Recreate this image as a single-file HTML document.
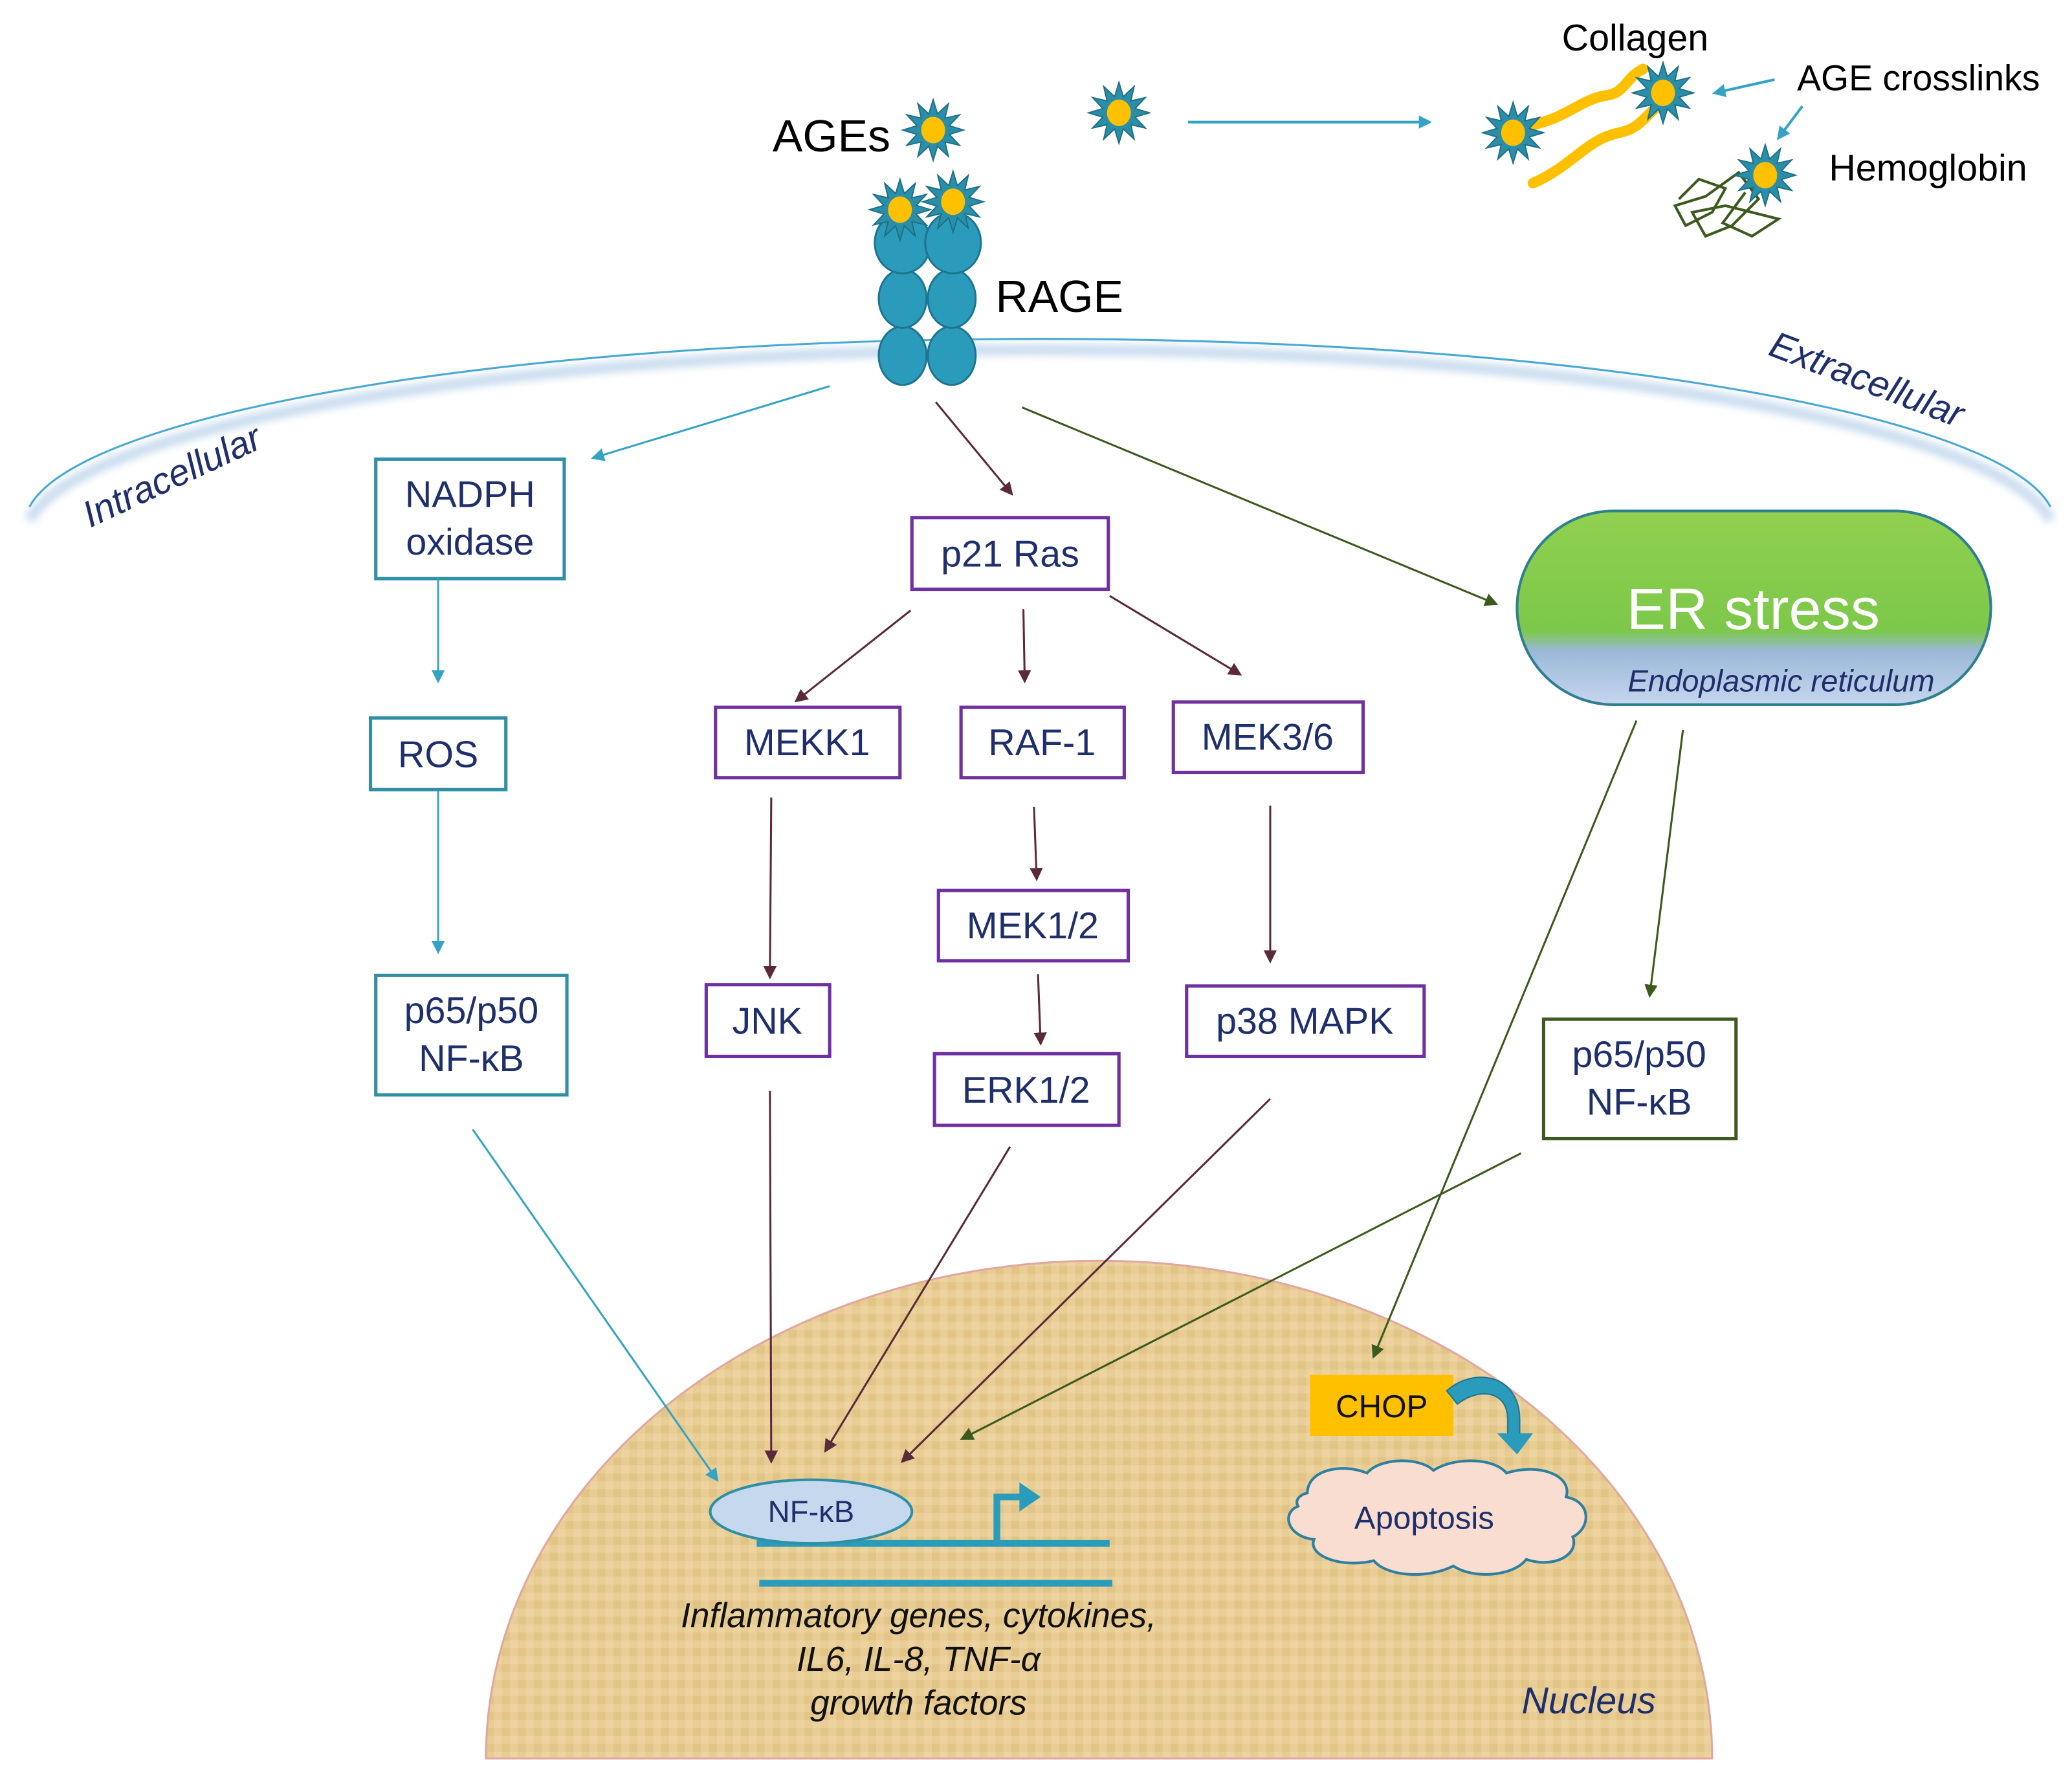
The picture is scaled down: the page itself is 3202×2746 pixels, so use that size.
<!DOCTYPE html>
<html><head><meta charset="utf-8">
<style>
html,body{margin:0;padding:0;background:#fff;}
svg{display:block;}
text{font-family:"Liberation Sans",sans-serif;}
</style></head>
<body>
<svg width="3202" height="2746" viewBox="0 0 1561 1339" xmlns="http://www.w3.org/2000/svg">
<defs>
  <g id="star">
    <polygon transform="scale(23)" fill="#2a8ea8" stroke="#1d6f85" stroke-width="0.04" points="1,0 0.531,0.142 0.866,0.5 0.389,0.389 0.5,0.866 0.142,0.531 0,1 -0.142,0.531 -0.5,0.866 -0.389,0.389 -0.866,0.5 -0.531,0.142 -1,0 -0.531,-0.142 -0.866,-0.5 -0.389,-0.389 -0.5,-0.866 -0.142,-0.531 0,-1 0.142,-0.531 0.5,-0.866 0.389,-0.389 0.866,-0.5 0.531,-0.142"/>
    <ellipse rx="9" ry="10" fill="#ffc000"/>
  </g>
  <marker id="aT" markerWidth="10" markerHeight="10" refX="8" refY="5" orient="auto" markerUnits="userSpaceOnUse"><path d="M0,0 L10,5 L0,10 z" fill="#35a3c4"/></marker>
  <marker id="aB" markerWidth="10" markerHeight="10" refX="8" refY="5" orient="auto" markerUnits="userSpaceOnUse"><path d="M0,0 L10,5 L0,10 z" fill="#5a2a3a"/></marker>
  <marker id="aG" markerWidth="10" markerHeight="10" refX="8" refY="5" orient="auto" markerUnits="userSpaceOnUse"><path d="M0,0 L10,5 L0,10 z" fill="#3d5a1e"/></marker>
  <linearGradient id="er" x1="0" y1="0" x2="0" y2="1">
    <stop offset="0" stop-color="#92d050"/><stop offset="0.62" stop-color="#7cc84a"/>
    <stop offset="0.72" stop-color="#9bb8d8"/><stop offset="1" stop-color="#c6d6ee"/>
  </linearGradient>
  <pattern id="tex" width="12" height="12" patternUnits="userSpaceOnUse">
    <rect width="12" height="12" fill="#e8cd95"/>
    <rect width="6" height="6" fill="#ecd39f"/>
    <rect x="6" y="6" width="6" height="6" fill="#e2c487"/>
  </pattern>
  <filter id="blur"><feGaussianBlur stdDeviation="3"/></filter>
</defs>

<!-- nucleus -->
<path d="M366,1325 A462,375 0 0 1 1290,1325 Z" fill="url(#tex)" stroke="#e0a8a0" stroke-width="1.5"/>

<!-- membrane -->
<path d="M22,392 A765,142 0 0 1 1545,392" fill="none" stroke="#c8dcef" stroke-width="8" filter="url(#blur)"/>
<path d="M22,382 A765,140 0 0 1 1545,382" fill="none" stroke="#4aa8d4" stroke-width="1.5"/>

<text x="130" y="368" font-size="28" font-style="italic" fill="#1f2f6b" text-anchor="middle" transform="rotate(-25 130 360)">Intracellular</text>
<text x="1405" y="295" font-size="28" font-style="italic" fill="#1f2f6b" text-anchor="middle" transform="rotate(21 1405 290)">Extracellular</text>

<!-- RAGE -->
<g fill="#2a9bbb" stroke="#1d7590" stroke-width="1.5">
  <ellipse cx="680" cy="268" rx="18" ry="22"/><ellipse cx="717" cy="268" rx="18" ry="22"/>
  <ellipse cx="680" cy="225" rx="18" ry="22"/><ellipse cx="717" cy="225" rx="18" ry="22"/>
  <ellipse cx="680" cy="183" rx="21" ry="23"/><ellipse cx="718" cy="183" rx="21" ry="23"/>
</g>
<use href="#star" x="678" y="158"/>
<use href="#star" x="718" y="152"/>

<text x="582" y="114" font-size="34" fill="#000">AGEs</text>
<use href="#star" x="703" y="98"/>
<text x="750" y="235" font-size="34" fill="#000">RAGE</text>
<use href="#star" x="843" y="85"/>
<line x1="895" y1="92" x2="1077" y2="92" stroke="#35a3c4" stroke-width="2" marker-end="url(#aT)"/>

<!-- collagen -->
<path d="M1150,95 C1180,90 1190,75 1210,72 C1225,70 1225,58 1238,52" fill="none" stroke="#ffc000" stroke-width="8" stroke-linecap="round"/>
<path d="M1155,138 C1185,125 1195,105 1220,100 C1240,96 1240,82 1262,72" fill="none" stroke="#ffc000" stroke-width="8" stroke-linecap="round"/>
<use href="#star" x="1140" y="100"/>
<use href="#star" x="1253" y="70"/>
<text x="1232" y="38" font-size="28" fill="#000" text-anchor="middle">Collagen</text>
<text x="1354" y="68" font-size="27" fill="#000">AGE crosslinks</text>
<line x1="1337" y1="60" x2="1292" y2="70" stroke="#35a3c4" stroke-width="2" marker-end="url(#aT)"/>
<line x1="1358" y1="80" x2="1340" y2="104" stroke="#35a3c4" stroke-width="2" marker-end="url(#aT)"/>
<!-- hemoglobin -->
<path d="M1265,150 L1280,135 L1300,142 L1290,160 L1270,170 L1262,155 L1285,148 L1310,130 L1325,150 L1305,170 L1285,178 L1275,160 L1300,155 L1340,165 L1320,178 L1298,168 L1315,145" fill="none" stroke="#3d5a1e" stroke-width="2"/>
<use href="#star" x="1330" y="132"/>
<text x="1378" y="136" font-size="28" fill="#000">Hemoglobin</text>

<!-- boxes -->
<g fill="#fff" stroke-width="2.5">
  <rect x="283" y="346" width="142" height="90" stroke="#2e8fa5"/>
  <rect x="279" y="541" width="102" height="54" stroke="#2e8fa5"/>
  <rect x="283" y="735" width="144" height="90" stroke="#2e8fa5"/>
  <rect x="687" y="390" width="148" height="54" stroke="#7030a0"/>
  <rect x="539" y="533" width="139" height="53" stroke="#7030a0"/>
  <rect x="724" y="533" width="123" height="53" stroke="#7030a0"/>
  <rect x="884" y="529" width="143" height="53" stroke="#7030a0"/>
  <rect x="707" y="671" width="143" height="53" stroke="#7030a0"/>
  <rect x="532" y="742" width="93" height="54" stroke="#7030a0"/>
  <rect x="704" y="794" width="139" height="54" stroke="#7030a0"/>
  <rect x="894" y="743" width="179" height="53" stroke="#7030a0"/>
  <rect x="1163" y="768" width="145" height="90" stroke="#3d5a1e"/>
</g>
<g font-size="28" fill="#1f2f6b" text-anchor="middle">
  <text x="354" y="382">NADPH</text><text x="354" y="418">oxidase</text>
  <text x="330" y="578">ROS</text>
  <text x="355" y="771">p65/p50</text><text x="355" y="807">NF-κB</text>
  <text x="761" y="427">p21 Ras</text>
  <text x="608" y="569">MEKK1</text>
  <text x="785" y="569">RAF-1</text>
  <text x="955" y="565">MEK3/6</text>
  <text x="778" y="707">MEK1/2</text>
  <text x="578" y="779">JNK</text>
  <text x="773" y="831">ERK1/2</text>
  <text x="983" y="779">p38 MAPK</text>
  <text x="1235" y="804">p65/p50</text><text x="1235" y="840">NF-κB</text>
</g>

<!-- ER stress -->
<rect x="1143" y="385" width="357" height="146" rx="73" ry="73" fill="url(#er)" stroke="#2e7f90" stroke-width="2"/>
<text x="1321" y="474" font-size="44" fill="#fff" text-anchor="middle">ER stress</text>
<text x="1342" y="521" font-size="23" font-style="italic" fill="#1f2f6b" text-anchor="middle">Endoplasmic reticulum</text>

<!-- arrows -->
<g stroke-width="1.5" fill="none">
  <line x1="625" y1="291" x2="447" y2="345" stroke="#35a3c4" marker-end="url(#aT)"/>
  <line x1="330" y1="436" x2="330" y2="513" stroke="#35a3c4" marker-end="url(#aT)"/>
  <line x1="330" y1="596" x2="330" y2="717" stroke="#35a3c4" marker-end="url(#aT)"/>
  <line x1="356" y1="851" x2="540" y2="1115" stroke="#35a3c4" marker-end="url(#aT)"/>
  <line x1="705" y1="303" x2="762" y2="372" stroke="#5a2a3a" marker-end="url(#aB)"/>
  <line x1="686" y1="460" x2="600" y2="528" stroke="#5a2a3a" marker-end="url(#aB)"/>
  <line x1="771" y1="459" x2="772" y2="513" stroke="#5a2a3a" marker-end="url(#aB)"/>
  <line x1="836" y1="449" x2="934" y2="508" stroke="#5a2a3a" marker-end="url(#aB)"/>
  <line x1="779" y1="608" x2="781" y2="662" stroke="#5a2a3a" marker-end="url(#aB)"/>
  <line x1="782" y1="734" x2="784" y2="786" stroke="#5a2a3a" marker-end="url(#aB)"/>
  <line x1="581" y1="601" x2="580" y2="736" stroke="#5a2a3a" marker-end="url(#aB)"/>
  <line x1="957" y1="607" x2="957" y2="724" stroke="#5a2a3a" marker-end="url(#aB)"/>
  <line x1="580" y1="822" x2="581" y2="1101" stroke="#5a2a3a" marker-end="url(#aB)"/>
  <line x1="761" y1="864" x2="622" y2="1093" stroke="#5a2a3a" marker-end="url(#aB)"/>
  <line x1="957" y1="828" x2="680" y2="1101" stroke="#5a2a3a" marker-end="url(#aB)"/>
  <line x1="770" y1="307" x2="1127" y2="455" stroke="#3d5a1e" marker-end="url(#aG)"/>
  <line x1="1233" y1="543" x2="1035" y2="1022" stroke="#3d5a1e" marker-end="url(#aG)"/>
  <line x1="1268" y1="550" x2="1243" y2="750" stroke="#3d5a1e" marker-end="url(#aG)"/>
  <line x1="1146" y1="869" x2="725" y2="1084" stroke="#3d5a1e" marker-end="url(#aG)"/>
</g>

<!-- NF-kB gene -->
<line x1="570" y1="1163" x2="836" y2="1163" stroke="#2a9bbb" stroke-width="5"/>
<line x1="572" y1="1193" x2="838" y2="1193" stroke="#2a9bbb" stroke-width="5"/>
<ellipse cx="611" cy="1139" rx="76" ry="24" fill="#c5d8ee" stroke="#2e8fa5" stroke-width="2"/>
<text x="611" y="1147" font-size="23" fill="#1f2f6b" text-anchor="middle">NF-κB</text>
<path d="M751,1163 L751,1128 L770,1128" fill="none" stroke="#2a9bbb" stroke-width="5"/>
<path d="M768,1117 L784,1128 L768,1139 z" fill="#2a9bbb"/>
<g font-size="26" font-style="italic" fill="#111" text-anchor="middle">
  <text x="692" y="1226">Inflammatory genes, cytokines,</text>
  <text x="692" y="1259">IL6, IL-8, TNF-α</text>
  <text x="692" y="1292">growth factors</text>
</g>
<text x="1197" y="1291" font-size="28" font-style="italic" fill="#1f2f6b" text-anchor="middle">Nucleus</text>

<!-- CHOP -->
<rect x="987" y="1036" width="108" height="46" fill="#ffc000"/>
<text x="1041" y="1068" font-size="24" fill="#111" text-anchor="middle">CHOP</text>
<path d="M1090,1048 C1110,1030 1145,1035 1145,1070 L1145,1082 L1136,1082 L1136,1070 C1136,1048 1115,1045 1098,1058 Z" fill="#2a9bbb" stroke="#1d7590" stroke-width="1"/>
<path d="M1128,1080 L1155,1080 L1143,1096 z" fill="#2a9bbb"/>
<!-- Apoptosis cloud -->
<path d="M985,1125 C985,1108 1010,1102 1030,1110 C1040,1098 1070,1098 1080,1108 C1095,1098 1125,1098 1135,1110 C1160,1102 1185,1112 1180,1128 C1200,1132 1198,1152 1185,1158 C1190,1172 1170,1182 1150,1175 C1140,1188 1110,1190 1095,1180 C1075,1190 1045,1188 1035,1176 C1010,1182 985,1172 990,1160 C970,1158 965,1140 978,1135 C975,1130 980,1126 985,1125 Z" fill="#f8ddd0" stroke="#2e7fa0" stroke-width="2"/>
<text x="1073" y="1152" font-size="24" fill="#1f2f6b" text-anchor="middle">Apoptosis</text>
</svg>
</body></html>
